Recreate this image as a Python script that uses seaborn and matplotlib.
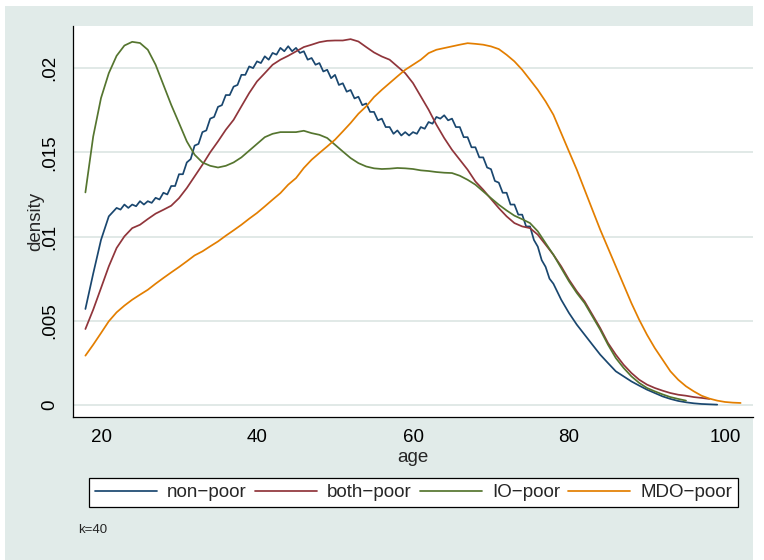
import numpy as np
import pandas as pd
import matplotlib.pyplot as plt
import seaborn as sns
from matplotlib.patches import Rectangle

# groups and colours (Stata s2color)
groups = ['non\u2212poor', 'both\u2212poor', 'IO\u2212poor', 'MDO\u2212poor']
colors = ['#1a476f', '#90353b', '#55752f', '#e37e00']

# non-poor: half-year steps in the wiggly part
nonpoor_age = np.r_[18:22, 22:78:0.5, 78:100]
nonpoor_dens = [
    .0057, .0078, .0098, .0112,
    .0117, .0116, .0119, .0117, .0119, .0118, .0121, .0119, .0121, .0120,
    .0123, .0122, .0126, .0125, .0130, .0130, .0137, .0137, .0144, .0146,
    .0154, .0155, .0162, .0163, .0170, .0171, .0177, .0178, .0184, .0184,
    .0189, .0190, .0196, .0196, .0201, .0200, .0204, .0203, .0207, .0205,
    .0209, .0208, .0212, .0210, .0213, .0210, .0212, .0209, .0210, .0205,
    .0206, .0202, .0203, .0198, .0199, .0194, .0196, .0190, .0191, .0186,
    .0187, .0182, .0183, .0178, .0179, .0174, .0174, .0169, .0170, .0165,
    .0165, .0161, .0163, .0160, .0162, .0160, .0162, .0161, .0165, .0164,
    .0168, .0167, .0171, .0170, .0172, .0169, .0170, .0165, .0165, .0159,
    .0159, .0153, .0153, .0147, .0147, .0141, .0140, .0133, .0132, .0126,
    .0126, .0119, .0119, .0113, .0113, .0106, .0106, .0098, .0094, .0086,
    .0082, .0075,
    .0072, .00625, .00546, .00477, .00417, .00358, .00299, .00249, .0020, .0017,
    .0014, .00115, .00091, .00071, .00051, .00036, .00024, .00016, .0001, .00006,
    .00004, .00002,
]

bothpoor_age = np.arange(18, 99)
bothpoor_dens = [
    .00451, .00566, .00694, .00823, .00932, .01001, .0105, .0107, .01104, .01136,
    .01159, .01183, .01228, .01288, .01357, .01426, .015, .01565, .01634, .01693,
    .01773, .01852, .01921, .0197, .0202, .0205, .02073, .02099, .02125, .02139,
    .02154, .02162, .02164, .02164, .02172, .02158, .02125, .02093, .02069, .0205,
    .0201, .0197, .01911, .01832, .01753, .01664, .01585, .01515, .01456, .01397,
    .01327, .01278, .01223, .01169, .0112, .0108, .0106, .0105, .01011, .00952,
    .00892, .00823, .00744, .00675, .00615, .00536, .00457, .00368, .00299, .00239,
    .0019, .0015, .00121, .00101, .00085, .00071, .00061, .00055, .00047, .00042,
    .00036,
]

iopoor_age = np.arange(18, 96)
iopoor_dens = [
    .01262, .01594, .01822, .0197, .02073, .02134, .02156, .02149, .02109, .0202,
    .01901, .01782, .01674, .01565, .01486, .0144, .0142, .0141, .0142, .0144,
    .0147, .0151, .0155, .0159, .0161, .0162, .0162, .0162, .01628, .01614,
    .01604, .01585, .01545, .01505, .01466, .01436, .01416, .01405, .01401, .01403,
    .01407, .01405, .01401, .01393, .01389, .01383, .01379, .01377, .01361, .01337,
    .01308, .01268, .01228, .01189, .01155, .01124, .01103, .0108, .01031, .00961,
    .00892, .00813, .00734, .00665, .00605, .00526, .00447, .00358, .00279, .0022,
    .0017, .00131, .00101, .00081, .00063, .00047, .00036, .00026,
]

mdopoor_age = np.arange(18, 103)
mdopoor_dens = [
    .00293, .00358, .00427, .00497, .0055, .0059, .00625, .00655, .00684, .0072,
    .00754, .00787, .00819, .00853, .00888, .00912, .00942, .00971, .01005, .01037,
    .0107, .01106, .0114, .01179, .01219, .01258, .01308, .01347, .01407, .01456,
    .01496, .01535, .01575, .01624, .01674, .01729, .01773, .01828, .01871, .01911,
    .01951, .0199, .0202, .0205, .02089, .02109, .02119, .02129, .02139, .02148,
    .02144, .02139, .02129, .02113, .02079, .0204, .0199, .01931, .01871, .01802,
    .01723, .01614, .01505, .01397, .01278, .01159, .01041, .00932, .00823, .00714,
    .00605, .00506, .00417, .00338, .00269, .002, .0015, .00111, .00081, .00055,
    .00038, .00026, .00018, .00014, .00012,
]

xticks = [20, 40, 60, 80, 100]
yticks = [0, .005, .01, .015, .02]
ytick_labels = ['0', '.005', '.01', '.015', '.02']

frames = []
for g, a, d in zip(groups,
                   [nonpoor_age, bothpoor_age, iopoor_age, mdopoor_age],
                   [nonpoor_dens, bothpoor_dens, iopoor_dens, mdopoor_dens]):
    frames.append(pd.DataFrame({'age': a, 'density': d, 'group': g}))
df = pd.concat(frames, ignore_index=True)

sns.set_style('white')
plt.rcParams['font.family'] = ['Liberation Sans', 'DejaVu Sans']

bg = '#e1ebe9'
W, H = 764, 560
fig = plt.figure(figsize=(W / 100, H / 100), dpi=100, facecolor='white')
fig.patches.append(Rectangle((5 / W, 0), 748 / W, 554 / H, transform=fig.transFigure,
                             facecolor=bg, edgecolor='none', zorder=-10))

ax = fig.add_axes([73 / W, 143 / H, 680 / W, 391 / H])
ax.set_facecolor('white')

sns.lineplot(data=df, x='age', y='density', hue='group', hue_order=groups,
             palette=colors, estimator=None, sort=False, linewidth=1.25, ax=ax)

ax.set_xlim(16.41, 103.59)
ax.set_ylim(-0.000713, 0.0225)
ax.set_xticks(xticks)
ax.set_yticks(yticks)
ax.set_yticklabels(ytick_labels, rotation=90, va='center')
ax.tick_params(axis='both', length=6, width=0.8, color='#222222', labelsize=13.5,
               labelcolor='black', direction='out')
ax.tick_params(axis='x', pad=3)
ax.tick_params(axis='y', pad=4.5)
ax.yaxis.grid(True, color='#dbe5e3', linewidth=1.2)
ax.xaxis.grid(False)
ax.set_axisbelow(True)
for s in ['top', 'right']:
    ax.spines[s].set_visible(False)
for s in ['left', 'bottom']:
    ax.spines[s].set_color('black')
    ax.spines[s].set_linewidth(0.9)

ax.set_xlabel('age', fontsize=13.5, labelpad=2)
ax.set_ylabel('density', fontsize=13.5)
ax.yaxis.set_label_coords(-0.043, 0.5)

handles, labels = ax.get_legend_handles_labels()
ax.get_legend().remove()
leg = fig.legend(handles, labels, loc='center', ncol=4, mode='expand',
                 bbox_to_anchor=(80 / W, 1 - 492.5 / H, 667 / W, 0),
                 fontsize=13.5, handlelength=3.3, handletextpad=0.55,
                 borderpad=0.3, fancybox=False, framealpha=1,
                 edgecolor='black', facecolor='white')
leg.get_frame().set_linewidth(0.9)
for line in leg.get_lines():
    line.set_linewidth(1.25)

fig.text(78 / W, 1 - 530 / H, 'k=40', fontsize=9.5, va='center', ha='left')
# title sits mostly above the picture, only descenders show
fig.text(0.5, 1 + 7 / H, 'Age density by group of poverty', fontsize=13,
         ha='center', va='baseline')

fig.savefig('out.png', dpi=100, facecolor='white')
